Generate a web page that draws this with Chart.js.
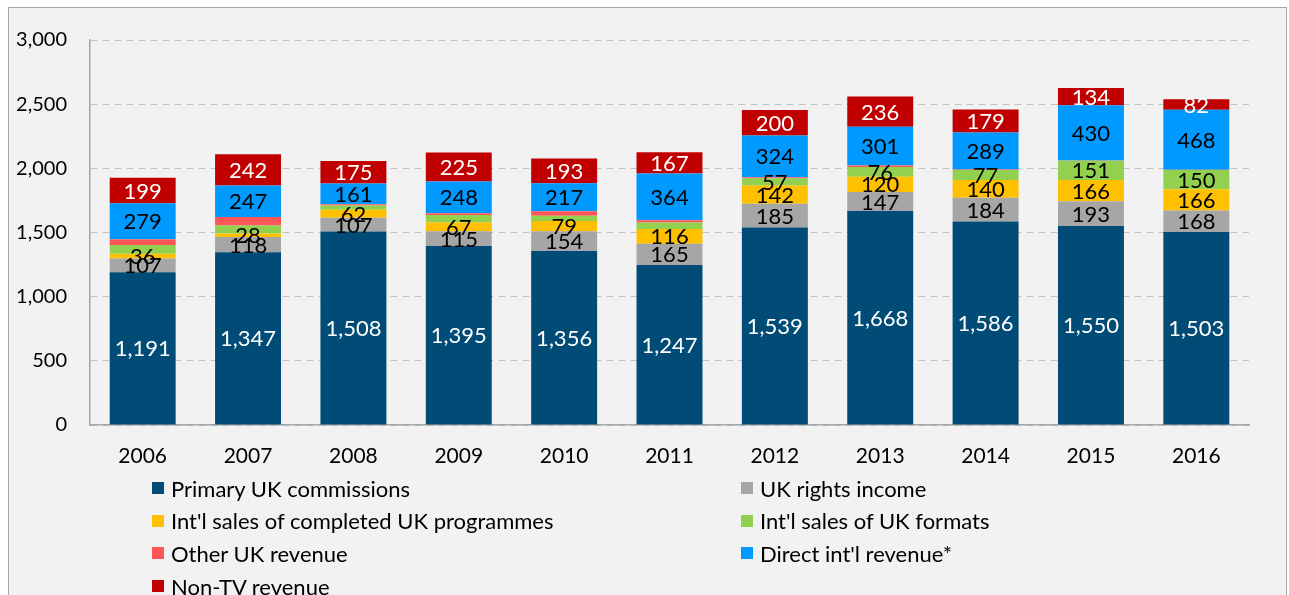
<!DOCTYPE html>
<html>
<head>
<meta charset="utf-8">
<script src="https://cdn.jsdelivr.net/npm/chart.js@4.4.1/dist/chart.umd.min.js"></script>
<style>
  html, body { margin: 0; padding: 0; background: #fff; }
  body { position: relative; width: 1289px; height: 595px; overflow: hidden; font-family: Lato, "Open Sans", sans-serif; }
  #frame { position: absolute; left: 8px; top: 7px; width: 1277px; height: 640px; border: 1px solid #a6a6a6; background: #f2f2f2; }
  #wrap { position: absolute; left: 0; top: 0; width: 1289px; height: 480px; }
  #legend { position: absolute; left: 152px; top: 472px; display: grid; grid-template-columns: 589px 400px; grid-auto-rows: 32.6px; font-size: 22px; color: #000; }
  #legend div { display: flex; align-items: center; }
  #legend span.sw { display: inline-block; width: 12px; height: 12px; margin-right: 7px; }
</style>
</head>
<body>
<div id="frame"></div>
<div id="wrap"><canvas id="c"></canvas></div>
<div id="legend"></div>
<script>
// 年份
const years = ['2006', '2007', '2008', '2009', '2010', '2011', '2012', '2013', '2014', '2015', '2016'];

// 各收入来源 (百万英镑)
const primaryUK   = [1191, 1347, 1508, 1395, 1356, 1247, 1539, 1668, 1586, 1550, 1503];
const ukRights    = [107, 118, 107, 115, 154, 165, 185, 147, 184, 193, 168];
const intlSales   = [36, 28, 62, 67, 79, 116, 142, 120, 140, 166, 166];
const intlFormats = [68, 62, 33, 60, 41, 49, 57, 76, 77, 151, 150];
const otherUK     = [46, 65, 11, 13, 36, 18, 8, 12, 3, 2, 2];
const directIntl  = [279, 247, 161, 248, 217, 364, 324, 301, 289, 430, 468];
const nonTV       = [199, 242, 175, 225, 193, 167, 200, 236, 179, 134, 82];

const yTicks = [0, 500, 1000, 1500, 2000, 2500, 3000];

// 格式数据标签从2012年开始显示
const FORMATS_LABEL_FROM = '2012';

const series = [
  { label: 'Primary UK commissions', data: primaryUK, color: '#004c76', text: '#fff' },
  { label: 'UK rights income', data: ukRights, color: '#a6a6a6', text: '#000' },
  { label: "Int'l sales of completed UK programmes", data: intlSales, color: '#ffc000', text: '#000' },
  { label: "Int'l sales of UK formats", data: intlFormats, color: '#92d050', text: '#000', from: FORMATS_LABEL_FROM },
  { label: 'Other UK revenue', data: otherUK, color: '#ff5757', text: null },
  { label: "Direct int'l revenue*", data: directIntl, color: '#0099ff', text: '#000' },
  { label: 'Non-TV revenue', data: nonTV, color: '#c00000', text: '#fff' }
];

const FONT = 'Lato, "Open Sans", sans-serif';

/**
 * 段内数值标签
 */
const segmentLabels = {
  id: 'segmentLabels',
  afterDatasetsDraw(chart) {
    const ctx = chart.ctx;
    ctx.save();
    ctx.font = '22px ' + FONT;
    ctx.textAlign = 'center';
    ctx.textBaseline = 'middle';
    series.forEach((s, di) => {
      if (!s.text) return;
      const meta = chart.getDatasetMeta(di);
      meta.data.forEach((bar, i) => {
        if (s.from && years[i] < s.from) return;
        const y = (bar.y + bar.base) / 2;
        ctx.fillStyle = s.text;
        ctx.fillText(s.data[i].toLocaleString('en-US'), bar.x, y + 1);
      });
    });
    ctx.restore();
  }
};

const datasets = series.map(s => ({
  label: s.label,
  data: s.data,
  backgroundColor: s.color,
  borderWidth: 0,
  categoryPercentage: 1,
  barPercentage: 0.626
}));

new Chart(document.getElementById('c'), {
  type: 'bar',
  data: { labels: years, datasets },
  options: {
    responsive: true,
    maintainAspectRatio: false,
    animation: false,
    layout: { padding: { top: 40, right: 40, left: 0, bottom: 0 } },
    scales: {
      x: {
        stacked: true,
        grid: { display: false, drawTicks: false },
        border: { display: true, color: '#a6a6a6', width: 1.5 },
        ticks: { color: '#000', font: { size: 21, family: FONT }, padding: 19 },
        afterFit: axis => { axis.height = 55; }
      },
      y: {
        stacked: true,
        min: 0,
        max: 3000,
        afterBuildTicks: axis => { axis.ticks = yTicks.map(v => ({ value: v })); },
        grid: { color: '#c3c3c3', lineWidth: 1, drawTicks: false },
        border: { display: true, color: '#a6a6a6', width: 1.5, dash: [7, 5] },
        ticks: {
          color: '#000',
          font: { size: 20, family: FONT },
          padding: 23,
          callback: v => v.toLocaleString('en-US')
        },
        afterFit: axis => { axis.width = 90; }
      }
    },
    plugins: {
      legend: { display: false },
      tooltip: { enabled: false }
    }
  },
  plugins: [segmentLabels]
});

// 图例 (两列)
const legendEl = document.getElementById('legend');
series.forEach(s => {
  const item = document.createElement('div');
  const sw = document.createElement('span');
  sw.className = 'sw';
  sw.style.background = s.color;
  item.appendChild(sw);
  item.appendChild(document.createTextNode(s.label));
  legendEl.appendChild(item);
});
</script>
</body>
</html>
